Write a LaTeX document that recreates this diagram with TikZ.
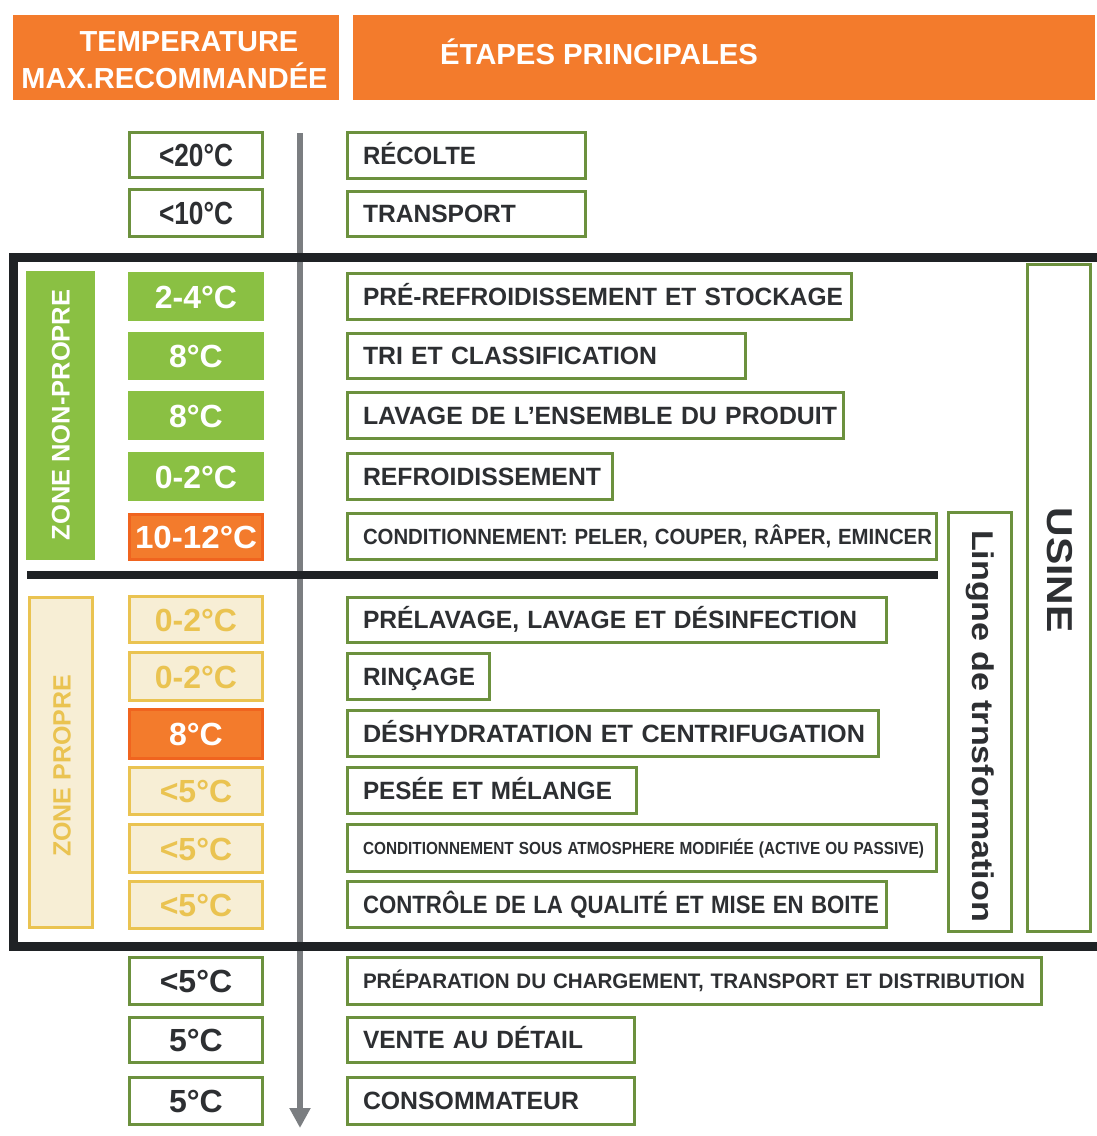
\documentclass[tikz,border=0pt]{standalone}
\usepackage{fontspec}
\setmainfont{Liberation Sans}
\usetikzlibrary{arrows.meta}
\definecolor{orng}{HTML}{F37B2C}
\definecolor{orngdk}{HTML}{F0641F}
\definecolor{grn}{HTML}{6C913E}
\definecolor{grnfill}{HTML}{8AC043}
\definecolor{beige}{HTML}{F7EED5}
\definecolor{yel}{HTML}{EAC351}
\definecolor{blk}{HTML}{1F2225}
\definecolor{gry}{HTML}{7B7E81}
\definecolor{txt}{HTML}{2D2F32}
\newcommand\fsz[1]{\fontsize{#1}{#1}\selectfont}
\newcommand\tmpn[5]{%
 \pgfmathsetmacro\tH{#3-#2-3}\pgfmathsetmacro\tY{(#2+#3)/2}%
 \node[tbox,#4,minimum height=\tH pt] (#1) at (196,\tY) {#5};}
\newcommand\stepn[7]{%
 \pgfmathsetmacro\sH{#3-#2-3}%
 \pgfmathsetmacro\sW{#4-347-1.5-32}%
 \pgfmathsetmacro\sX{(347+#4-1.5)/2}%
 \pgfmathsetmacro\sY{(#2+#3)/2}%
 \pgfmathsetmacro\sC{0.716*#5}%
 \node[sbox,minimum height=\sH pt,text width=\sW pt,font=\bfseries\fsz{#5},text height=\sC pt,text depth=0pt] (#1) at (\sX,\sY) {\resizebox{#6pt}{\height}{#7}};}
\begin{document}
\begin{tikzpicture}[x=1pt,y=-1pt,
 tbox/.style={draw=grn,fill=white,line width=3pt,minimum width=133pt,inner sep=0pt,text=txt,font=\bfseries\fsz{32},text height=23pt,text depth=0pt},
 tgreen/.style={draw=grnfill,fill=grnfill,text=white},
 torange/.style={draw=orngdk,fill=orng,text=white},
 tbeige/.style={draw=yel,fill=beige,text=yel},
 twhite/.style={},
 sbox/.style={draw=grn,fill=white,line width=3pt,inner xsep=16pt,inner ysep=0pt,align=left,text=txt},
 hbox/.style={fill=orng,inner sep=0pt},
 htxt/.style={text=white,font=\bfseries\fsz{29},text height=20.8pt,text depth=0pt,inner sep=0pt},
 vbox/.style={draw=grn,fill=white,line width=3pt,inner sep=0pt},
 frame/.style={blk,line width=9pt,line join=miter}]
\useasboundingbox (0,0) rectangle (1097,1136);
% headers
\node[hbox,minimum width=326pt,minimum height=85pt] (h1) at (176,57.5) {};
\node[htxt] (h1a) at (189,41) {TEMPERATURE};
\node[htxt] (h1b) at (174.5,78) {MAX.RECOMMANDÉE};
\node[hbox,minimum width=742pt,minimum height=85pt] (h2) at (724,57.5) {};
\node[htxt] (h2a) at (599,54.5) {\resizebox{318pt}{\height}{ÉTAPES PRINCIPALES}};
% arrow
\coordinate (atop) at (300,133);
\coordinate (abot) at (300,1128);
\draw[gry,line width=6.5pt,-{Triangle[width=20pt,length=20pt]}] (atop) -- (abot);
% frame
\draw[frame] (1097,257) -- (13,257) -- (13,946) -- (1097,946);
\draw[blk,line width=8pt] (27,575) -- (938,575);
% zones
\node[draw=grnfill,fill=grnfill,rotate=90,minimum width=288pt,minimum height=68pt,inner sep=0pt,text=white,font=\bfseries\fsz{25.5},text height=18.3pt,text depth=0pt] (znp) at (60.5,415) {ZONE NON-PROPRE};
\node[draw=yel,fill=beige,line width=3pt,rotate=90,minimum width=330pt,minimum height=63pt,inner sep=0pt] (zp) at (61,762.5) {};
\node[rotate=90,text=yel,font=\bfseries\fsz{25},text height=18pt,text depth=0pt,inner sep=0pt] (zpt) at (61.5,766) {ZONE PROPRE};
% right boxes
\node[vbox,minimum width=63pt,minimum height=419pt] (lig) at (980,722) {};
\node[rotate=-90,text=txt,font=\bfseries\fsz{30},text height=21.5pt,text depth=6pt,inner sep=0pt] (ligt) at (980,726) {\resizebox{392pt}{\height}{Lingne de trnsformation}};
\node[vbox,minimum width=63pt,minimum height=667pt] (usi) at (1059,598) {};
\node[rotate=-90,text=txt,font=\bfseries\fsz{36},text height=25.8pt,text depth=0pt,inner sep=0pt] (usit) at (1060,570) {\resizebox{125pt}{\height}{USINE}};
% temperatures
\tmpn{t1}{131}{179}{twhite}{\resizebox{74pt}{\height}{<20°C}}
\tmpn{t2}{188}{238}{twhite}{\resizebox{74pt}{\height}{<10°C}}
\tmpn{t3}{272}{321}{tgreen}{2-4°C}
\tmpn{t4}{332}{380}{tgreen}{8°C}
\tmpn{t5}{391}{440}{tgreen}{8°C}
\tmpn{t6}{452}{501}{tgreen}{0-2°C}
\tmpn{t7}{513}{561}{torange}{\resizebox{122pt}{\height}{10-12°C}}
\tmpn{t8}{595}{644}{tbeige}{0-2°C}
\tmpn{t9}{651}{702}{tbeige}{0-2°C}
\tmpn{t10}{708}{760}{torange}{8°C}
\tmpn{t11}{766}{816}{tbeige}{<5°C}
\tmpn{t12}{823}{874}{tbeige}{<5°C}
\tmpn{t13}{880}{930}{tbeige}{<5°C}
\tmpn{t14}{956}{1006}{twhite}{<5°C}
\tmpn{t15}{1016}{1064}{twhite}{5°C}
\tmpn{t16}{1076}{1126}{twhite}{5°C}
% steps
\stepn{s1}{131}{180}{587}{25}{113}{RÉCOLTE}
\stepn{s2}{190}{238}{587}{25}{153}{TRANSPORT}
\stepn{s3}{272}{321}{853}{25}{480}{PRÉ-REFROIDISSEMENT ET STOCKAGE}
\stepn{s4}{332}{380}{747}{25}{294}{TRI ET CLASSIFICATION}
\stepn{s5}{391}{440}{845}{25}{474}{LAVAGE DE L’ENSEMBLE DU PRODUIT}
\stepn{s6}{452}{501}{614}{25}{238}{REFROIDISSEMENT}
\stepn{s7}{512}{561}{938}{22}{569}{CONDITIONNEMENT: PELER, COUPER, RÂPER, EMINCER}
\stepn{s8}{596}{644}{888}{25}{494}{PRÉLAVAGE, LAVAGE ET DÉSINFECTION}
\stepn{s9}{652}{701}{491}{25}{112}{RINÇAGE}
\stepn{s10}{709}{758}{880}{25}{502}{DÉSHYDRATATION ET CENTRIFUGATION}
\stepn{s11}{766}{815}{638}{25}{249}{PESÉE ET MÉLANGE}
\stepn{s12}{823}{873}{938}{17.5}{561}{CONDITIONNEMENT SOUS ATMOSPHERE MODIFIÉE (ACTIVE OU PASSIVE)}
\stepn{s13}{880}{929}{888}{25}{516}{CONTRÔLE DE LA QUALITÉ ET MISE EN BOITE}
\stepn{s14}{956}{1006}{1043}{21}{662}{PRÉPARATION DU CHARGEMENT, TRANSPORT ET DISTRIBUTION}
\stepn{s15}{1016}{1064}{636}{25}{220}{VENTE AU DÉTAIL}
\stepn{s16}{1076}{1126}{636}{25}{216}{CONSOMMATEUR}
\end{tikzpicture}
\end{document}
